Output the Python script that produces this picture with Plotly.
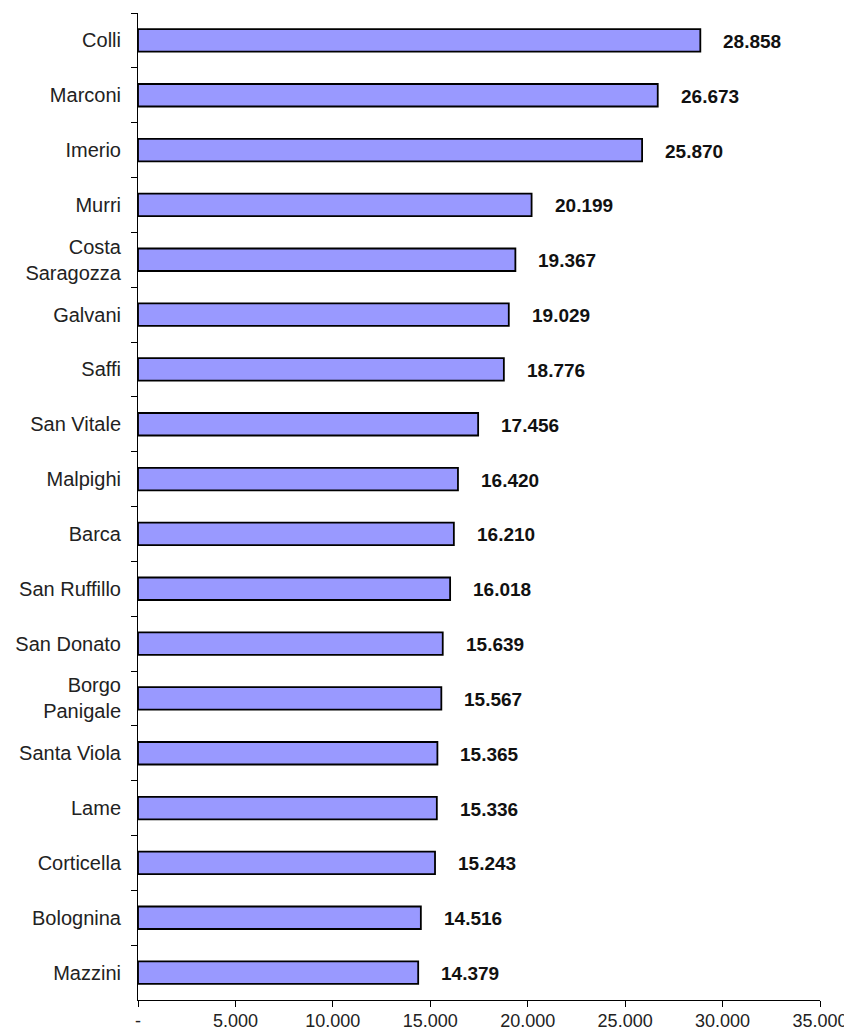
import plotly.graph_objects as go

categories = ["Colli", "Marconi", "Imerio", "Murri", "Costa<br>Saragozza", "Galvani",
              "Saffi", "San Vitale", "Malpighi", "Barca", "San Ruffillo", "San Donato",
              "Borgo<br>Panigale", "Santa Viola", "Lame", "Corticella", "Bolognina", "Mazzini"]
values = [28858, 26673, 25870, 20199, 19367, 19029, 18776, 17456, 16420, 16210,
          16018, 15639, 15567, 15365, 15336, 15243, 14516, 14379]
value_labels = ["28.858", "26.673", "25.870", "20.199", "19.367", "19.029", "18.776",
                "17.456", "16.420", "16.210", "16.018", "15.639", "15.567", "15.365",
                "15.336", "15.243", "14.516", "14.379"]
tick_vals = [0, 5000, 10000, 15000, 20000, 25000, 30000, 35000]
tick_text = ["-", "5.000", "10.000", "15.000", "20.000", "25.000", "30.000", "35.000"]

FONT = "Liberation Sans, Arial"

fig = go.Figure()
fig.add_trace(go.Bar(
    y=categories, x=values, orientation="h", width=0.41,
    marker=dict(color="#9999FF", line=dict(color="black", width=1.8)),
    hoverinfo="skip",
))

for c, v, t in zip(categories, values, value_labels):
    fig.add_annotation(x=v, y=c, text="<b>" + t + "</b>", showarrow=False,
                       xanchor="left", yanchor="middle", xshift=21, yshift=-1,
                       font=dict(family=FONT, size=19, color="#111111"))

# page body has an 8px margin, so the figure is sized/offset to fill the window
fig.update_layout(
    width=844, height=1025,
    margin=dict(l=130, r=32, t=5, b=33, autoexpand=False),
    paper_bgcolor="white", plot_bgcolor="white",
    showlegend=False,
    font=dict(family=FONT, size=20, color="#222222"),
)
fig.update_xaxes(
    range=[0, 35000], tickvals=tick_vals, ticktext=tick_text,
    showgrid=False, zeroline=False, showline=True, linecolor="black", linewidth=1,
    ticks="outside", ticklen=6, tickcolor="black", tickwidth=1, automargin=False,
    tickfont=dict(family=FONT, size=18, color="#222222"), ticklabelstandoff=-2,
)
fig.update_yaxes(
    autorange="reversed", showgrid=False, zeroline=False,
    showline=True, linecolor="black", linewidth=1,
    ticks="outside", tickson="boundaries", ticklen=6, tickcolor="black", tickwidth=1,
    tickfont=dict(family=FONT, size=20, color="#222222"), ticklabelstandoff=12,
    automargin=False,
)

fig.write_html("out.html")
